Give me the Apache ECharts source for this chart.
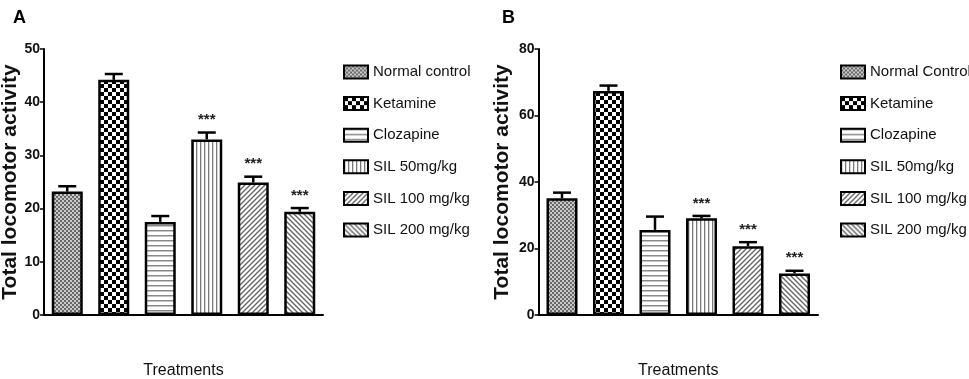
<!DOCTYPE html>
<html>
<head>
<meta charset="utf-8">
<script src="https://cdn.jsdelivr.net/npm/echarts@6/dist/echarts.min.js"></script>
<style>
  html, body { margin: 0; padding: 0; background: #fff; }
  #chart { width: 969px; height: 379px; }
</style>
</head>
<body>
<div id="chart"></div>
<script>
// --- data ---
const treatmentsA = ["Normal control", "Ketamine", "Clozapine", "SIL 50mg/kg", "SIL 100 mg/kg", "SIL 200 mg/kg"];
const treatmentsB = ["Normal Control", "Ketamine", "Clozapine", "SIL 50mg/kg", "SIL 100 mg/kg", "SIL 200 mg/kg"];
const meanA = [23.2, 44.2, 17.5, 33.0, 24.9, 19.4];
const semA = [1.0, 1.1, 1.1, 1.3, 1.1, 0.7];
const sigA = ["", "", "", "***", "***", "***"];
const meanB = [35.1, 67.4, 25.6, 29.1, 20.7, 12.5];
const semB = [1.7, 1.6, 4.0, 0.7, 1.2, 0.8];
const sigB = ["", "", "", "***", "***", "***"];
const ticksA = { max: 50, interval: 10 };
const ticksB = { max: 80, interval: 20 };

const FONT = "'Liberation Sans', Arial, sans-serif";
const BAR_W = 31;
const BAR_GAP = "50%";

// small canvas tiles used as bar fills
function tile(size, draw) {
  const c = document.createElement("canvas");
  c.width = size;
  c.height = size;
  const ctx = c.getContext("2d");
  ctx.fillStyle = "#fff";
  ctx.fillRect(0, 0, size, size);
  draw(ctx, size);
  return { image: c, repeat: "repeat" };
}

const patterns = [
  // fine grey checks
  tile(4, (ctx) => {
    ctx.fillStyle = "#6a6a6a";
    ctx.fillRect(0, 0, 2, 2);
    ctx.fillRect(2, 2, 2, 2);
    ctx.fillStyle = "#c8c8c8";
    ctx.fillRect(2, 0, 2, 2);
    ctx.fillRect(0, 2, 2, 2);
  }),
  // coarse black checks
  tile(8, (ctx) => {
    ctx.fillStyle = "#000";
    ctx.fillRect(0, 0, 4, 4);
    ctx.fillRect(4, 4, 4, 4);
  }),
  // horizontal stripes
  tile(5, (ctx, s) => {
    ctx.fillStyle = "#8a8a8a";
    ctx.fillRect(0, 0, s, 1.5);
  }),
  // vertical stripes
  tile(4, (ctx, s) => {
    ctx.fillStyle = "#7a7a7a";
    ctx.fillRect(0, 0, 1.3, s);
  }),
  // diagonal /
  tile(5, (ctx, s) => {
    ctx.strokeStyle = "#666";
    ctx.lineWidth = 1.4;
    ctx.beginPath();
    ctx.moveTo(-1, s + 1); ctx.lineTo(s + 1, -1);
    ctx.moveTo(-1, 1); ctx.lineTo(1, -1);
    ctx.moveTo(s - 1, s + 1); ctx.lineTo(s + 1, s - 1);
    ctx.stroke();
  }),
  // diagonal \
  tile(5, (ctx, s) => {
    ctx.strokeStyle = "#666";
    ctx.lineWidth = 1.4;
    ctx.beginPath();
    ctx.moveTo(-1, -1); ctx.lineTo(s + 1, s + 1);
    ctx.moveTo(s - 1, -1); ctx.lineTo(s + 1, 1);
    ctx.moveTo(-1, s - 1); ctx.lineTo(1, s + 1);
    ctx.stroke();
  }),
];

function barSeries(names, means, axis) {
  return names.map((name, i) => ({
    name: name,
    type: "bar",
    xAxisIndex: axis,
    yAxisIndex: axis,
    barWidth: BAR_W,
    barGap: BAR_GAP,
    data: [means[i]],
    itemStyle: { color: patterns[i], borderColor: "#000", borderWidth: 2.5 },
    emphasis: { disabled: true },
    z: 2,
  }));
}

function errorSeries(means, sems, sigs, axis) {
  return {
    type: "custom",
    xAxisIndex: axis,
    yAxisIndex: axis,
    z: 3,
    silent: true,
    data: means.map((m, i) => [0, m, sems[i], i]),
    renderItem: (params, api) => {
      const i = api.value(3);
      const layout = api.barLayout({ count: means.length, barWidth: BAR_W, barGap: BAR_GAP });
      const base = api.coord([0, api.value(1)]);
      const top = api.coord([0, api.value(1) + api.value(2)]);
      const x = base[0] + layout[i].offsetCenter;
      const children = [
        { type: "line", shape: { x1: x, y1: base[1], x2: x, y2: top[1] }, style: { stroke: "#000", lineWidth: 2.5 } },
        { type: "line", shape: { x1: x - 9, y1: top[1], x2: x + 9, y2: top[1] }, style: { stroke: "#000", lineWidth: 2.5 } },
      ];
      if (sigs[i]) {
        children.push({
          type: "text",
          style: { text: sigs[i], x: x, y: top[1] - 5, align: "center", verticalAlign: "bottom", font: "bold 15px " + FONT, fill: "#222" },
        });
      }
      return { type: "group", children: children };
    },
  };
}

function xAxis(grid) {
  return {
    type: "category",
    gridIndex: grid,
    data: ["Treatments"],
    name: "Treatments",
    nameLocation: "middle",
    nameGap: 48,
    nameTextStyle: { fontFamily: FONT, fontSize: 16, color: "#111" },
    axisLine: { lineStyle: { color: "#000", width: 2 } },
    axisTick: { alignWithLabel: true, length: 7, lineStyle: { color: "#000", width: 1.5 } },
    axisLabel: { show: false },
  };
}

function yAxis(grid, ticks, gap) {
  return {
    type: "value",
    gridIndex: grid,
    min: 0,
    max: ticks.max,
    interval: ticks.interval,
    name: "Total locomotor activity",
    nameLocation: "middle",
    nameGap: gap,
    nameTextStyle: { fontFamily: FONT, fontWeight: "bold", fontSize: 21, color: "#111" },
    axisLine: { show: true, lineStyle: { color: "#000", width: 2 } },
    axisTick: { show: true, length: 4, lineStyle: { color: "#000", width: 1.5 } },
    axisLabel: { margin: 4, fontFamily: FONT, fontWeight: "bold", fontSize: 14, color: "#111" },
    splitLine: { show: false },
  };
}

function legend(names, left) {
  return {
    data: names,
    orient: "vertical",
    left: left,
    top: 58,
    itemWidth: 24,
    itemHeight: 13,
    itemGap: 13.6,
    icon: "rect",
    selectedMode: false,
    textStyle: { fontFamily: FONT, fontSize: 15, lineHeight: 18, color: "#111" },
  };
}

const chart = echarts.init(document.getElementById("chart"), null, { renderer: "canvas" });

chart.setOption({
  animation: false,
  backgroundColor: "#fff",
  title: [
    { text: "A", left: 8, top: 4, textStyle: { fontFamily: FONT, fontWeight: "bold", fontSize: 18, color: "#000" } },
    { text: "B", left: 497, top: 4, textStyle: { fontFamily: FONT, fontWeight: "bold", fontSize: 18, color: "#000" } },
  ],
  legend: [legend(treatmentsA, 338), legend(treatmentsB, 835)],
  grid: [
    { left: 44, width: 279, top: 49, bottom: 64, outerBoundsMode: "none" },
    { left: 538.5, width: 279.5, top: 49, bottom: 64, outerBoundsMode: "none" },
  ],
  xAxis: [xAxis(0), xAxis(1)],
  yAxis: [yAxis(0, ticksA, 22), yAxis(1, ticksB, 26)],
  series: [
    ...barSeries(treatmentsA, meanA, 0),
    errorSeries(meanA, semA, sigA, 0),
    ...barSeries(treatmentsB, meanB, 1),
    errorSeries(meanB, semB, sigB, 1),
  ],
});
</script>
</body>
</html>
